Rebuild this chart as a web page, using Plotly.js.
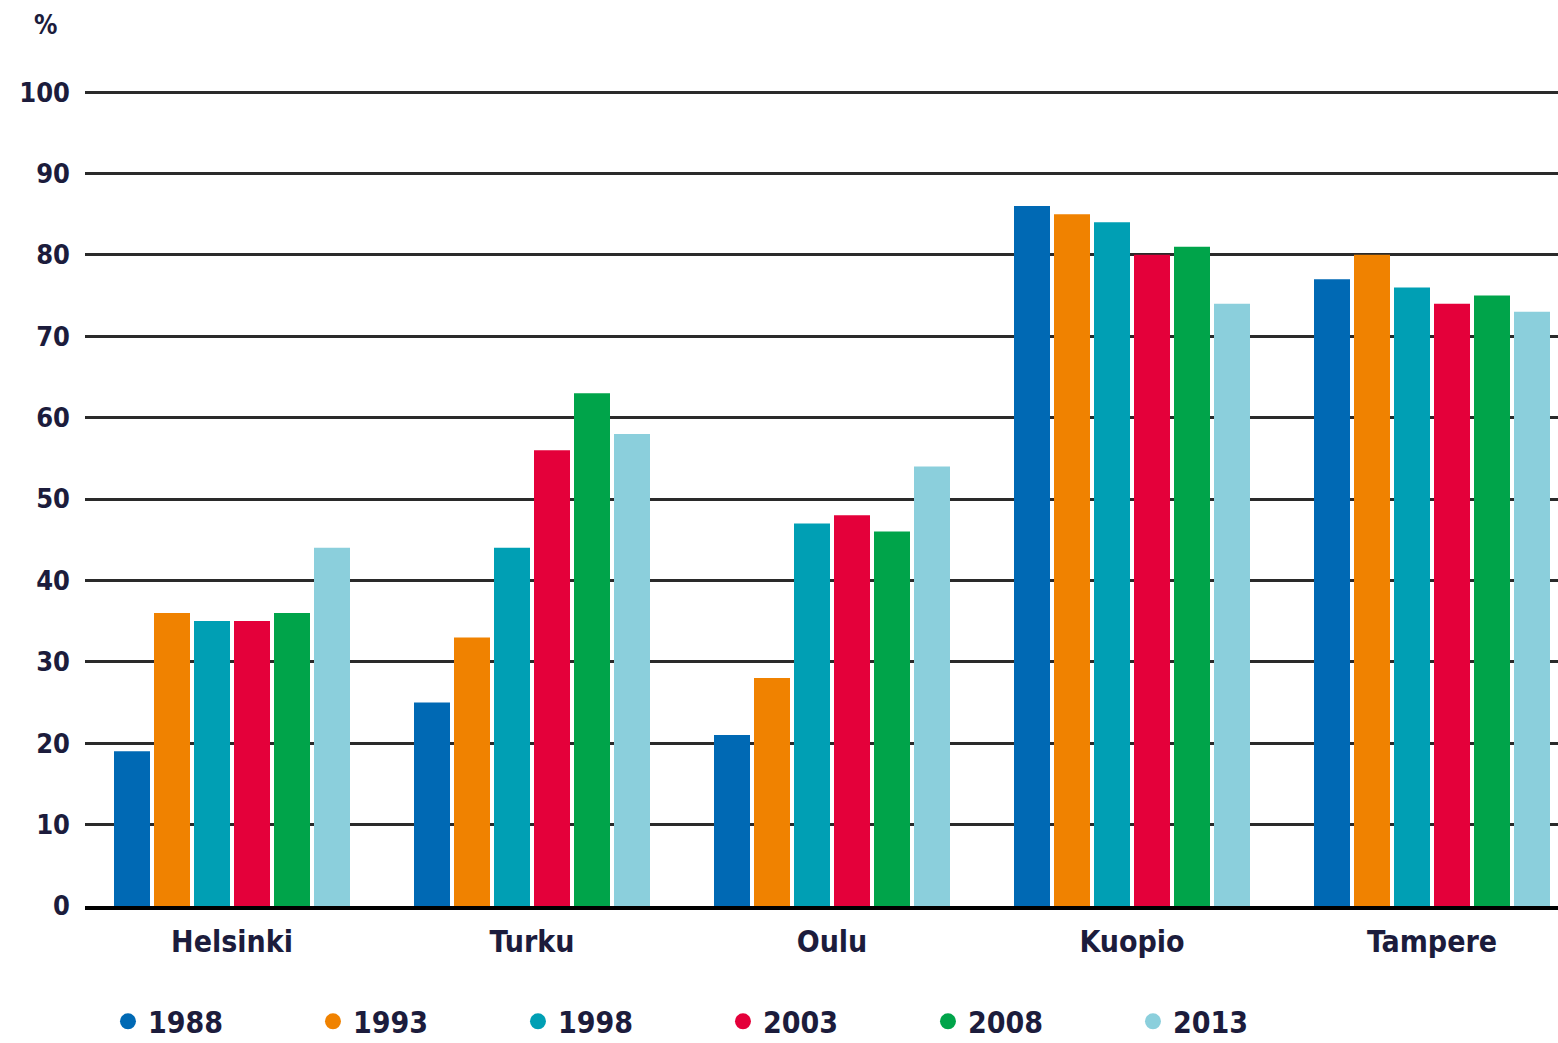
<!DOCTYPE html>
<html>
<head>
<meta charset="utf-8">
<script src="https://cdn.plot.ly/plotly-3.0.1.min.js"></script>
<style>html,body{margin:0;padding:0;background:#fff;}#chart{width:1558px;height:1043px;}</style>
</head>
<body>
<div id="chart"></div>
<script>
const cities = ["Helsinki", "Turku", "Oulu", "Kuopio", "Tampere"];
const years = ["1988", "1993", "1998", "2003", "2008", "2013"];
const v1988 = [19, 25, 21, 86, 77];
const v1993 = [36, 33, 28, 85, 80];
const v1998 = [35, 44, 47, 84, 76];
const v2003 = [35, 56, 48, 80, 74];
const v2008 = [36, 63, 46, 81, 75];
const v2013 = [44, 58, 54, 74, 73];
const colors = ["#0069b4", "#f08200", "#009fb4", "#e4003a", "#00a44a", "#8bcfdc"];
const yTicks = [0, 10, 20, 30, 40, 50, 60, 70, 80, 90, 100];

const series = [v1988, v1993, v1998, v2003, v2008, v2013];
const FONT = '"Liberation Sans Narrow", "DejaVu Sans Condensed", "Roboto Condensed", sans-serif';
const TXT = '#1c1c3c';

const traces = [];
series.forEach((vals, i) => {
  traces.push({
    type: 'bar', x: cities, y: vals, name: years[i],
    marker: {color: colors[i]}, showlegend: false, hoverinfo: 'y'
  });
});
series.forEach((vals, i) => {
  traces.push({
    type: 'scatter', mode: 'markers', x: [null], y: [null], name: years[i],
    marker: {color: colors[i], size: 26, symbol: 'circle'}, showlegend: true
  });
});

const layout = {
  width: 1558, height: 1043,
  margin: {l: 85, r: 0, t: 88, b: 137, autoexpand: false},
  paper_bgcolor: '#fff', plot_bgcolor: '#fff',
  barmode: 'group', bargap: 0.2, bargroupgap: 0.1,
  font: {family: FONT, color: TXT, size: 28, weight: 'bold'},
  xaxis: {
    range: [-0.49, 4.42], showgrid: false, zeroline: false,
    showline: true, linecolor: '#000', linewidth: 4,
    ticks: '', ticklen: 0, ticklabelstandoff: 6,
    tickfont: {family: FONT, size: 30, color: TXT, weight: 'bold'}
  },
  yaxis: {
    range: [0, 100.5], tickvals: yTicks, ticktext: yTicks.map(String),
    showgrid: true, gridcolor: '#2a2a2a', gridwidth: 3,
    zeroline: false, showline: false, ticks: '',
    ticklabelstandoff: 14,
    tickfont: {family: FONT, size: 27, color: TXT, weight: 'bold'}
  },
  legend: {
    orientation: 'h', x: 0.0156, y: -0.141, xanchor: 'left', yanchor: 'middle',
    entrywidth: 160, entrywidthmode: 'pixels', itemwidth: 30,
    font: {family: FONT, size: 30, color: TXT, weight: 'bold'},
    traceorder: 'normal', itemclick: false
  },
  annotations: [{
    xref: 'paper', yref: 'paper', x: -0.027, y: 1.077, xanchor: 'center', yanchor: 'middle',
    text: '%', showarrow: false,
    font: {family: FONT, size: 26, color: TXT, weight: 'bold'}
  }]
};

Plotly.newPlot('chart', traces, layout, {displayModeBar: false, staticPlot: true});
</script>
</body>
</html>
